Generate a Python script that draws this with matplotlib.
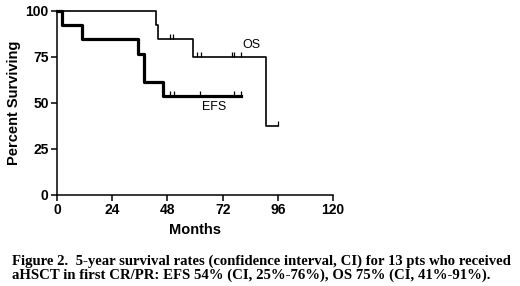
import matplotlib
matplotlib.use("Agg")
import matplotlib.pyplot as plt
from matplotlib.path import Path

# Kaplan-Meier Stufen (Monate, Prozent)
os_times = [0, 43, 44, 59, 91, 96]
os_surv = [100, 92.3, 84.6, 75.0, 37.5, 37.5]
os_cens_t = [49, 50.5, 60.7, 62.5, 76, 77, 80, 96]
os_cens_s = [84.6, 84.6, 75.0, 75.0, 75.0, 75.0, 75.0, 37.5]

efs_times = [0, 2, 11, 35, 38, 46, 80]
efs_surv = [100, 92.3, 84.6, 76.9, 61.5, 53.8, 53.8]
efs_cens_t = [49, 51, 62, 77, 80]
efs_cens_s = [53.8, 53.8, 53.8, 53.8, 53.8]

x_ticks = [0, 24, 48, 72, 96, 120]
y_ticks = [0, 25, 50, 75, 100]

caption1 = "Figure 2.  5-year survival rates (confidence interval, CI) for 13 pts who received"
caption2 = "aHSCT in first CR/PR: EFS 54% (CI, 25%-76%), OS 75% (CI, 41%-91%)."

W, H = 520, 286
fig = plt.figure(figsize=(W / 100, H / 100), dpi=100)
ax = fig.add_axes([57 / W, 1 - 195 / H, (333 - 57) / W, (195 - 11) / H])

# Zensur-Striche nach oben
up_tick = Path([(0, 0), (0, 1)])

ax.step(os_times, os_surv, where="post", color="black", lw=1.2, clip_on=False)
ax.plot(os_cens_t, os_cens_s, ls="none", marker=up_tick, ms=7, mew=0.9,
        color="black", clip_on=False)
ax.step(efs_times, efs_surv, where="post", color="black", lw=2.3, clip_on=False)
ax.plot(efs_cens_t, efs_cens_s, ls="none", marker=up_tick, ms=7, mew=0.9,
        color="black", clip_on=False)

ax.text(84.6, 81.5, "OS", fontsize=9, family="Liberation Sans", ha="center", va="center")
ax.text(68.4, 47.7, "EFS", fontsize=9, family="Liberation Sans", ha="center", va="center")

ax.set_xlim(0, 120)
ax.set_ylim(0, 100)
ax.set_xticks(x_ticks)
ax.set_yticks(y_ticks)
for s in ["top", "right"]:
    ax.spines[s].set_visible(False)
for s in ["left", "bottom"]:
    ax.spines[s].set_linewidth(1.1)
ax.tick_params(direction="out", length=4, width=1.1, labelsize=10, pad=2)
for lab in ax.get_xticklabels() + ax.get_yticklabels():
    lab.set_fontweight("bold")
    lab.set_family("Liberation Sans")

ax.set_xlabel("Months", fontsize=10.5, fontweight="bold", family="Liberation Sans", labelpad=4)
ax.set_ylabel("Percent Surviving", fontsize=10.5, fontweight="bold", family="Liberation Sans", labelpad=3)

fig.text(12 / W, 1 - 261.5 / H, caption1, fontsize=10.6, fontweight="bold",
         family="Liberation Serif", ha="left", va="center")
fig.text(12 / W, 1 - 275.5 / H, caption2, fontsize=10.6, fontweight="bold",
         family="Liberation Serif", ha="left", va="center")

fig.savefig("out.png", dpi=100)
